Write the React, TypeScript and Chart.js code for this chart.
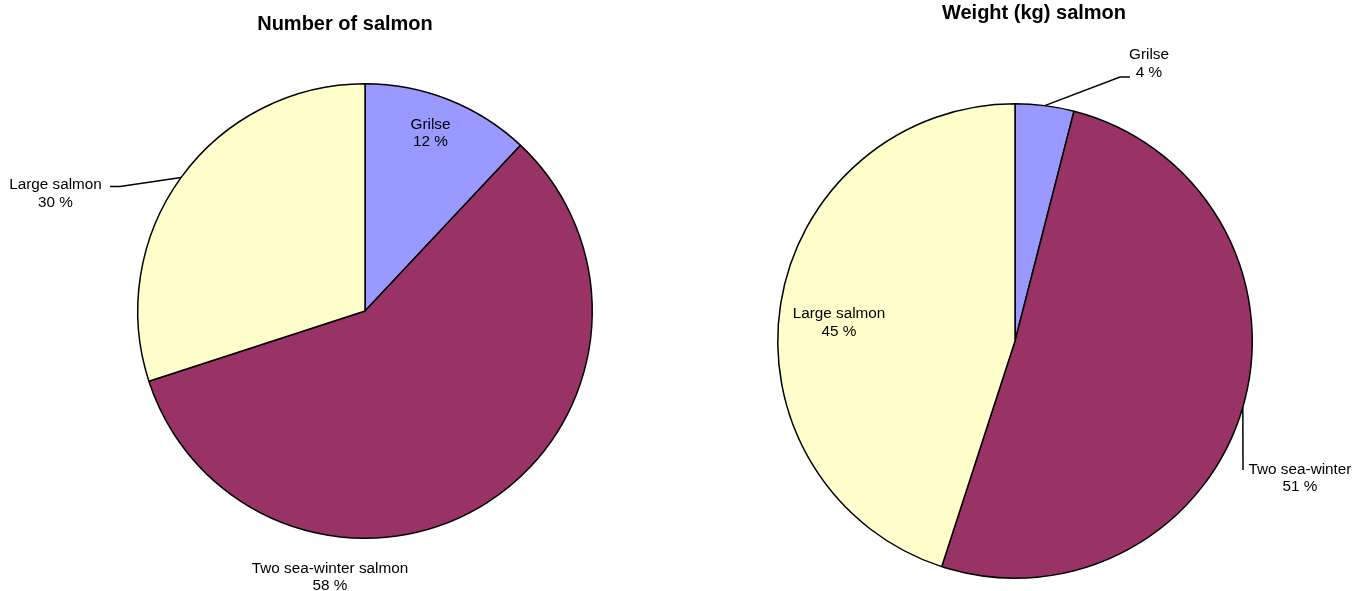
import React, { useEffect, useRef } from "react";
import { Chart, registerables } from "chart.js";

Chart.register(...registerables);

// ---- Data ----
const numberCategories = ["Grilse", "Two sea-winter salmon", "Large salmon"];
const numberValues = [12, 58, 30];
const weightCategories = ["Grilse", "Two sea-winter", "Large salmon"];
const weightValues = [4, 51, 45];
const sliceColors = ["#9999FF", "#993366", "#FFFFCC"];
const numberTitle = "Number of salmon";
const weightTitle = "Weight (kg) salmon";

const FONT = '"Liberation Sans", Arial, Helvetica, sans-serif';

type LabelPos = { x: number; y: number; leader?: [number, number][] };

function makeLabelPlugin(title: string, titleX: number, titleY: number, positions: LabelPos[]) {
  return {
    id: "salmonLabels",
    afterDraw(chart: any) {
      const ctx = chart.ctx as CanvasRenderingContext2D;
      const meta = chart.getDatasetMeta(0);
      const names = chart.data.labels as string[];
      const values = chart.data.datasets[0].data as number[];
      ctx.save();
      ctx.fillStyle = "#000";
      ctx.textAlign = "center";
      ctx.textBaseline = "alphabetic";
      ctx.font = `bold 20px ${FONT}`;
      ctx.fillText(title, titleX, titleY);
      ctx.font = `15.3px ${FONT}`;
      positions.forEach((p, i) => {
        const arc = meta.data[i];
        if (p.leader && arc) {
          const props = arc.getProps(["x", "y", "startAngle", "endAngle", "outerRadius"], true);
          const mid = (props.startAngle + props.endAngle) / 2;
          const sx = props.x + props.outerRadius * Math.cos(mid);
          const sy = props.y + props.outerRadius * Math.sin(mid);
          ctx.beginPath();
          ctx.strokeStyle = "#000";
          ctx.lineWidth = 1.5;
          ctx.moveTo(sx, sy);
          p.leader.forEach(([lx, ly]) => ctx.lineTo(lx, ly));
          ctx.stroke();
        }
        ctx.fillText(names[i], p.x, p.y);
        ctx.fillText(`${values[i]} %`, p.x, p.y + 17.5);
      });
      ctx.restore();
    },
  };
}

function PieCanvas(props: {
  labels: string[];
  values: number[];
  padding: { left: number; right: number; top: number; bottom: number };
  plugin: any;
  left: number;
}) {
  const ref = useRef<HTMLCanvasElement | null>(null);
  useEffect(() => {
    if (!ref.current) return;
    const chart = new Chart(ref.current, {
      type: "pie",
      data: {
        labels: props.labels,
        datasets: [
          {
            data: props.values,
            backgroundColor: sliceColors,
            borderColor: "#000000",
            borderWidth: 1.5,
          },
        ],
      },
      options: {
        responsive: false,
        animation: false,
        devicePixelRatio: 1,
        layout: { padding: props.padding },
        plugins: {
          legend: { display: false },
          tooltip: { enabled: false },
          title: { display: false },
        },
      },
      plugins: [props.plugin],
    } as any);
    return () => chart.destroy();
  }, []);
  return (
    <canvas
      ref={ref}
      width={685}
      height={591}
      style={{ position: "absolute", left: props.left, top: 0, width: 685, height: 591 }}
    />
  );
}

export default function App() {
  useEffect(() => {
    document.body.style.margin = "0";
    document.body.style.background = "#ffffff";
  }, []);

  const leftPlugin = makeLabelPlugin(numberTitle, 345, 29.5, [
    { x: 430.5, y: 128.5 },
    { x: 330, y: 572.5 },
    { x: 55.5, y: 189, leader: [[120, 186.5], [110, 186.5]] },
  ]);
  const rightPlugin = makeLabelPlugin(weightTitle, 349, 18.5, [
    { x: 464, y: 59, leader: [[435, 77], [445, 77]] },
    { x: 615, y: 473.5, leader: [[558, 470]] },
    { x: 154, y: 318 },
  ]);

  return (
    <div style={{ position: "absolute", left: 0, top: 0, width: 1370, height: 591, background: "#fff" }}>
      <PieCanvas
        labels={numberCategories}
        values={numberValues}
        padding={{ left: 137, right: 92, top: 83, bottom: 52 }}
        plugin={leftPlugin}
        left={0}
      />
      <PieCanvas
        labels={weightCategories}
        values={weightValues}
        padding={{ left: 92, right: 117, top: 103, bottom: 12 }}
        plugin={rightPlugin}
        left={685}
      />
    </div>
  );
}
